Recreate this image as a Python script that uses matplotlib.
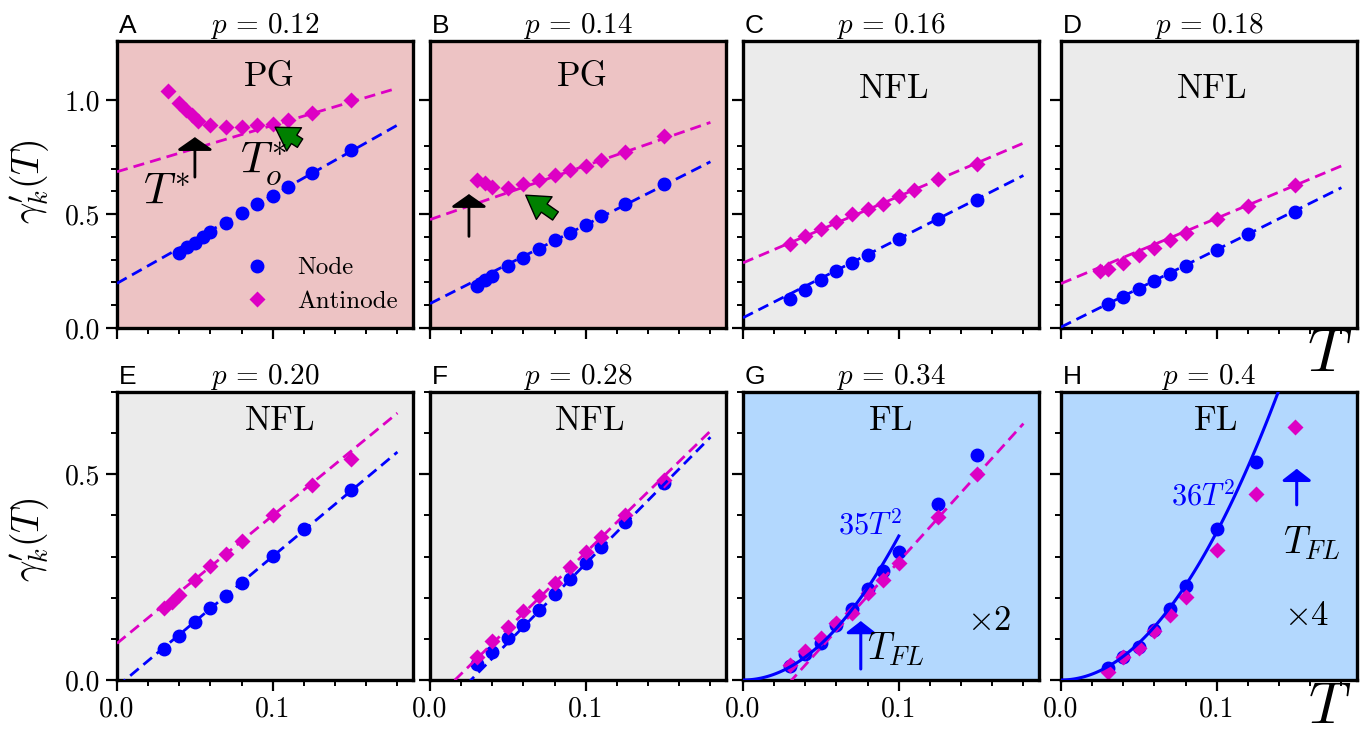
import matplotlib
matplotlib.use("Agg")
import matplotlib.pyplot as plt
import numpy as np

plt.rcParams["font.family"] = "serif"
plt.rcParams["font.serif"] = ["cmr10"]
plt.rcParams["mathtext.fontset"] = "cm"
plt.rcParams["axes.unicode_minus"] = False

### DATA ###

dopings = ["0.12", "0.14", "0.16", "0.18", "0.20", "0.28", "0.34", "0.4"]
letters = ["A", "B", "C", "D", "E", "F", "G", "H"]
regimes = ["PG", "PG", "NFL", "NFL", "NFL", "NFL", "FL", "FL"]

# panel A, p = 0.12
T_A_node = [0.04, 0.045, 0.05, 0.055, 0.06, 0.07, 0.08, 0.09, 0.1, 0.11, 0.125, 0.15]
g_A_node = [0.330, 0.357, 0.374, 0.398, 0.420, 0.462, 0.503, 0.544, 0.579, 0.620, 0.679, 0.781]
T_A_anti = [0.033, 0.04, 0.044, 0.048, 0.052, 0.06, 0.07, 0.08, 0.09, 0.1, 0.11, 0.125, 0.15]
g_A_anti = [1.039, 0.986, 0.956, 0.934, 0.909, 0.890, 0.883, 0.883, 0.890, 0.895, 0.915, 0.942, 1.003]

# panel B, p = 0.14
T_B_node = [0.03, 0.035, 0.04, 0.05, 0.06, 0.07, 0.08, 0.09, 0.1, 0.11, 0.125, 0.15]
g_B_node = [0.184, 0.209, 0.230, 0.272, 0.309, 0.348, 0.385, 0.417, 0.454, 0.490, 0.543, 0.634]
T_B_anti = [0.03, 0.035, 0.04, 0.05, 0.06, 0.07, 0.08, 0.09, 0.1, 0.11, 0.125, 0.15]
g_B_anti = [0.649, 0.637, 0.619, 0.616, 0.634, 0.649, 0.671, 0.693, 0.712, 0.736, 0.773, 0.842]

# panel C, p = 0.16
T_C_node = [0.03, 0.04, 0.05, 0.06, 0.07, 0.08, 0.1, 0.125, 0.15]
g_C_node = [0.126, 0.168, 0.212, 0.249, 0.285, 0.319, 0.392, 0.477, 0.564]
T_C_anti = [0.03, 0.04, 0.05, 0.06, 0.07, 0.08, 0.09, 0.1, 0.11, 0.125, 0.15]
g_C_anti = [0.370, 0.404, 0.435, 0.466, 0.499, 0.524, 0.546, 0.578, 0.608, 0.652, 0.719]

# panel D, p = 0.18
T_D_node = [0.03, 0.04, 0.05, 0.06, 0.07, 0.08, 0.1, 0.12, 0.15]
g_D_node = [0.104, 0.136, 0.171, 0.205, 0.239, 0.272, 0.344, 0.411, 0.510]
T_D_anti = [0.025, 0.03, 0.04, 0.05, 0.06, 0.07, 0.08, 0.1, 0.12, 0.15]
g_D_anti = [0.250, 0.261, 0.287, 0.319, 0.353, 0.385, 0.417, 0.477, 0.536, 0.627]

# panel E, p = 0.20
T_E_node = [0.03, 0.04, 0.05, 0.06, 0.07, 0.08, 0.1, 0.12, 0.15]
g_E_node = [0.076, 0.108, 0.141, 0.174, 0.203, 0.236, 0.301, 0.367, 0.461]
T_E_anti = [0.03, 0.035, 0.04, 0.05, 0.06, 0.07, 0.08, 0.1, 0.125, 0.15]
g_E_anti = [0.175, 0.189, 0.206, 0.244, 0.276, 0.307, 0.337, 0.401, 0.474, 0.538]

# panel F, p = 0.28
T_F_node = [0.03, 0.04, 0.05, 0.06, 0.07, 0.08, 0.09, 0.1, 0.11, 0.125, 0.15]
g_F_node = [0.038, 0.069, 0.103, 0.134, 0.171, 0.210, 0.246, 0.285, 0.323, 0.384, 0.480]
T_F_anti = [0.03, 0.04, 0.05, 0.06, 0.07, 0.08, 0.09, 0.1, 0.11, 0.125, 0.15]
g_F_anti = [0.055, 0.094, 0.128, 0.167, 0.203, 0.236, 0.275, 0.311, 0.347, 0.402, 0.485]

# panel G, p = 0.34
T_G_node = [0.03, 0.04, 0.05, 0.06, 0.07, 0.08, 0.09, 0.1, 0.125, 0.15]
g_G_node = [0.033, 0.063, 0.091, 0.134, 0.172, 0.221, 0.265, 0.311, 0.428, 0.546]
T_G_anti = [0.03, 0.04, 0.05, 0.06, 0.07, 0.08, 0.09, 0.1, 0.125, 0.15]
g_G_anti = [0.037, 0.071, 0.102, 0.138, 0.163, 0.211, 0.244, 0.285, 0.396, 0.500]

# panel H, p = 0.4
T_H_node = [0.03, 0.04, 0.05, 0.06, 0.07, 0.08, 0.1, 0.125, 0.15]
g_H_node = [0.029, 0.055, 0.079, 0.122, 0.173, 0.228, 0.366, 0.531, 0.715]
T_H_anti = [0.03, 0.04, 0.05, 0.06, 0.07, 0.08, 0.1, 0.125, 0.15]
g_H_anti = [0.020, 0.057, 0.077, 0.118, 0.159, 0.201, 0.315, 0.453, 0.614]

T_node = [T_A_node, T_B_node, T_C_node, T_D_node, T_E_node, T_F_node, T_G_node, T_H_node]
g_node = [g_A_node, g_B_node, g_C_node, g_D_node, g_E_node, g_F_node, g_G_node, g_H_node]
T_anti = [T_A_anti, T_B_anti, T_C_anti, T_D_anti, T_E_anti, T_F_anti, T_G_anti, T_H_anti]
g_anti = [g_A_anti, g_B_anti, g_C_anti, g_D_anti, g_E_anti, g_F_anti, g_G_anti, g_H_anti]

# linear fits gamma = a + b*T (None = no line)
fit_node = [(0.196, 3.86), (0.107, 3.46), (0.045, 3.47), (0.004, 3.40),
            (-0.0165, 3.17), (-0.101, 3.84), None, None]
fit_anti = [(0.686, 2.04), (0.476, 2.37), (0.286, 2.92), (0.195, 2.87),
            (0.089, 3.11), (-0.059, 3.69), (-0.131, 4.19), None]
# quadratic fits c*T^2 for the FL panels (coef, T max)
quad_fit = {6: (35, 0.1), 7: (36, 0.16)}

### STYLE ###

bg = {"PG": "#EDC3C4", "NFL": "#EBEBEB", "FL": "#B3D8FE"}
c_node = "#0000FF"
c_anti = "#DD00C4"

W, H = 1366, 736
fig = plt.figure(figsize=(W / 100, H / 100), dpi=100)

lefts = [117, 430, 743, 1061]
width = 296
rows = [(41, 328), (392, 680)]

axes = []
for i in range(8):
    r, c = divmod(i, 4)
    top, bot = rows[r]
    ax = fig.add_axes([lefts[c] / W, (H - bot) / H, width / W, (bot - top) / H])
    axes.append(ax)

    ax.set_facecolor(bg[regimes[i]])
    for s in ax.spines.values():
        s.set_linewidth(2.4)

    ax.plot(T_node[i], g_node[i], "o", color=c_node, ms=9, zorder=2, label="Node")
    ax.plot(T_anti[i], g_anti[i], "D", color=c_anti, ms=8.5, mec="none", zorder=2, label="Antinode")

    Tl = np.linspace(0, 0.18, 50)
    if fit_anti[i] is not None:
        a, b = fit_anti[i]
        ax.plot(Tl, a + b * Tl, color=c_anti, lw=2, dashes=(4, 2.2), zorder=3)
    if fit_node[i] is not None:
        a, b = fit_node[i]
        ax.plot(Tl, a + b * Tl, color=c_node, lw=2, dashes=(4, 2.2), zorder=3)
    if i in quad_fit:
        coef, tmax = quad_fit[i]
        Tq = np.linspace(0, tmax, 100)
        ax.plot(Tq, coef * Tq ** 2, color=c_node, lw=2.2, zorder=3)

    ax.set_xlim(0, 0.19)
    ax.set_xticks([0, 0.1])
    ax.set_xticks([0.02, 0.04, 0.06, 0.08, 0.12, 0.14, 0.16, 0.18], minor=True)
    if r == 0:
        ax.set_ylim(0, 1.26)
        ax.set_yticks([0, 0.5, 1.0])
        ax.set_yticks([0.1, 0.2, 0.3, 0.4, 0.6, 0.7, 0.8], minor=True)
        ax.set_xticklabels([])
        ylabels = ["0.0", "0.5", "1.0"]
    else:
        ax.set_ylim(0, 0.7)
        ax.set_yticks([0, 0.5])
        ax.set_yticks([0.1, 0.2, 0.3, 0.4, 0.6, 0.7], minor=True)
        ax.set_xticklabels(["0.0", "0.1"])
        ylabels = ["0.0", "0.5"]
    if c == 0:
        ax.set_yticklabels(ylabels)
    else:
        ax.set_yticklabels([])

    ax.tick_params(which="major", direction="out", length=8, width=1.6, labelsize=20, pad=4)
    ax.tick_params(which="minor", direction="out", length=4.5, width=1.4)

    ax.set_title(r"$p\,=\,%s$" % dopings[i], fontsize=21, pad=6)
    ax.text(0.005, 1.01, letters[i], transform=ax.transAxes, fontsize=19,
            family="Liberation Sans", ha="left", va="bottom")

# regime labels
axes[0].text(0.098, 1.10, "PG", fontsize=25, ha="center", va="center")
axes[1].text(0.098, 1.10, "PG", fontsize=25, ha="center", va="center")
axes[2].text(0.097, 1.05, "NFL", fontsize=25, ha="center", va="center")
axes[3].text(0.097, 1.05, "NFL", fontsize=25, ha="center", va="center")
axes[4].text(0.105, 0.63, "NFL", fontsize=25, ha="center", va="center")
axes[5].text(0.103, 0.63, "NFL", fontsize=25, ha="center", va="center")
axes[6].text(0.095, 0.63, "FL", fontsize=25, ha="center", va="center")
axes[7].text(0.0995, 0.63, "FL", fontsize=25, ha="center", va="center")

# legend in panel A
axes[0].legend(loc="lower right", frameon=False, fontsize=18, handletextpad=0.6,
               borderaxespad=0.2, labelspacing=0.45)

# T* and T_o* markers
blk = dict(arrowstyle="-|>,head_width=0.5,head_length=0.35", color="k", lw=2, mutation_scale=22)
grn = dict(arrowstyle="simple,head_width=1.1,head_length=0.9,tail_width=0.4",
           fc="green", ec="k", lw=1, mutation_scale=18)
axes[0].annotate("", xy=(0.05, 0.85), xytext=(0.05, 0.65), arrowprops=blk)
axes[0].annotate("", xy=(0.1, 0.888), xytext=(0.119, 0.805), arrowprops=grn)
axes[0].text(0.0315, 0.59, r"$T^{*}$", fontsize=32, ha="center", va="center")
axes[0].text(0.094, 0.72, r"$T^{*}_{o}$", fontsize=32, ha="center", va="center")
axes[1].annotate("", xy=(0.025, 0.60), xytext=(0.025, 0.39), arrowprops=blk)
axes[1].annotate("", xy=(0.06, 0.59), xytext=(0.082, 0.485), arrowprops=grn)

# FL annotations
blu = dict(arrowstyle="-|>,head_width=0.45,head_length=0.35", color=c_node, lw=2.2, mutation_scale=20)
axes[6].text(0.0814, 0.378, r"$35T^2$", fontsize=22, color=c_node, ha="center", va="center")
axes[6].text(0.158, 0.142, r"$\times 2$", fontsize=25, ha="center", va="center")
axes[6].annotate("", xy=(0.0756, 0.15), xytext=(0.0756, 0.02), arrowprops=blu)
axes[6].text(0.098, 0.075, r"$T_{FL}$", fontsize=27, ha="center", va="center")
axes[7].text(0.0913, 0.447, r"$36T^2$", fontsize=22, color=c_node, ha="center", va="center")
axes[7].text(0.158, 0.154, r"$\times 4$", fontsize=25, ha="center", va="center")
axes[7].annotate("", xy=(0.1513, 0.52), xytext=(0.1513, 0.419), arrowprops=blu)
axes[7].text(0.161, 0.333, r"$T_{FL}$", fontsize=27, ha="center", va="center")

# outer labels
fig.text(1330 / W, 1 - 355 / H, r"$T$", fontsize=44, ha="center", va="center")
fig.text(1330 / W, 1 - 708 / H, r"$T$", fontsize=42, ha="center", va="center")
fig.text(30 / W, 1 - 182 / H, r"$\gamma^{\prime}_{k}(T)$", fontsize=27, rotation=90, ha="center", va="center")
fig.text(30 / W, 1 - 540 / H, r"$\gamma^{\prime}_{k}(T)$", fontsize=27, rotation=90, ha="center", va="center")

fig.save_path = "out.png"
fig.savefig("out.png", dpi=100)
